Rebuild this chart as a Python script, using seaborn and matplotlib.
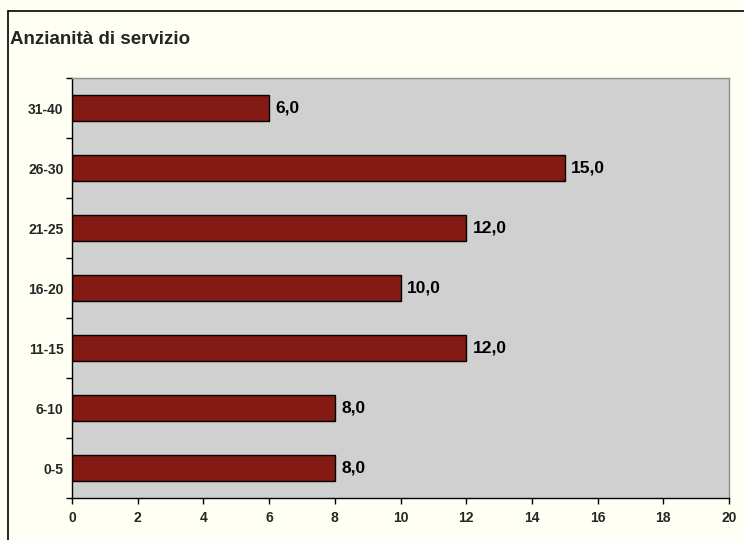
import matplotlib
matplotlib.use("Agg")
import matplotlib.pyplot as plt
import seaborn as sns
import pandas as pd
from matplotlib.lines import Line2D

categories = ["31-40", "26-30", "21-25", "16-20", "11-15", "6-10", "0-5"]
values = [6.0, 15.0, 12.0, 10.0, 12.0, 8.0, 8.0]
x_ticks = [0, 2, 4, 6, 8, 10, 12, 14, 16, 18, 20]
title = "Anzianità di servizio"

df = pd.DataFrame({"cat": categories, "val": values})

sns.set_style("white")
plt.rcParams['font.family'] = ['Liberation Sans', 'DejaVu Sans']

bg = "#FFFFF3"
fig = plt.figure(figsize=(7.44, 5.40), dpi=100, facecolor=bg)
ax = fig.add_axes([72/744, 42/540, (729-72)/744, (498-78)/540])
ax.set_facecolor("#D0D0D0")

sns.barplot(data=df, x="val", y="cat", order=categories, orient="h",
            color="#841A14", saturation=1, width=0.43,
            edgecolor="black", linewidth=1.0, ax=ax)

ax.set_xlim(0, 20)
ax.set_ylim(len(categories) - 0.5, -0.5)
ax.set_xticks(x_ticks)
ax.set_xticklabels([str(t) for t in x_ticks], fontsize=10, fontweight="bold")
ax.set_yticks(range(len(categories)))
ax.set_yticklabels(categories, fontsize=10, fontweight="bold")
ax.set_yticks([i - 0.5 for i in range(len(categories) + 1)], minor=True)
ax.tick_params(axis="y", which="major", length=0, pad=6)
ax.tick_params(axis="y", which="minor", length=4, width=1, color="black", direction="out", left=True)
ax.tick_params(axis="x", which="major", length=4, width=1, color="black", direction="out", bottom=True, pad=5)
ax.set_xlabel("")
ax.set_ylabel("")

for side in ["left", "bottom"]:
    ax.spines[side].set_color("black")
    ax.spines[side].set_linewidth(1.0)
for side in ["top", "right"]:
    ax.spines[side].set_color("#909090")
    ax.spines[side].set_linewidth(1.0)

for i, v in enumerate(values):
    ax.annotate(f"{v:.1f}".replace(".", ","), xy=(v, i), xytext=(4.5, 0),
                textcoords="offset points", va="center", ha="left",
                fontsize=12.5, fontweight="bold", color="black")

fig.text(10/744, 1 - 40/540, title, fontsize=13.5, fontweight="bold",
         ha="left", va="center")

# figure border (top and left visible)
fig.add_artist(Line2D([8/744, 1.0], [1 - 11/540, 1 - 11/540], transform=fig.transFigure,
                      color="black", linewidth=1.2))
fig.add_artist(Line2D([8/744, 8/744], [0.0, 1 - 11/540], transform=fig.transFigure,
                      color="black", linewidth=1.2))

fig.savefig("out.png", dpi=100, facecolor=bg)
